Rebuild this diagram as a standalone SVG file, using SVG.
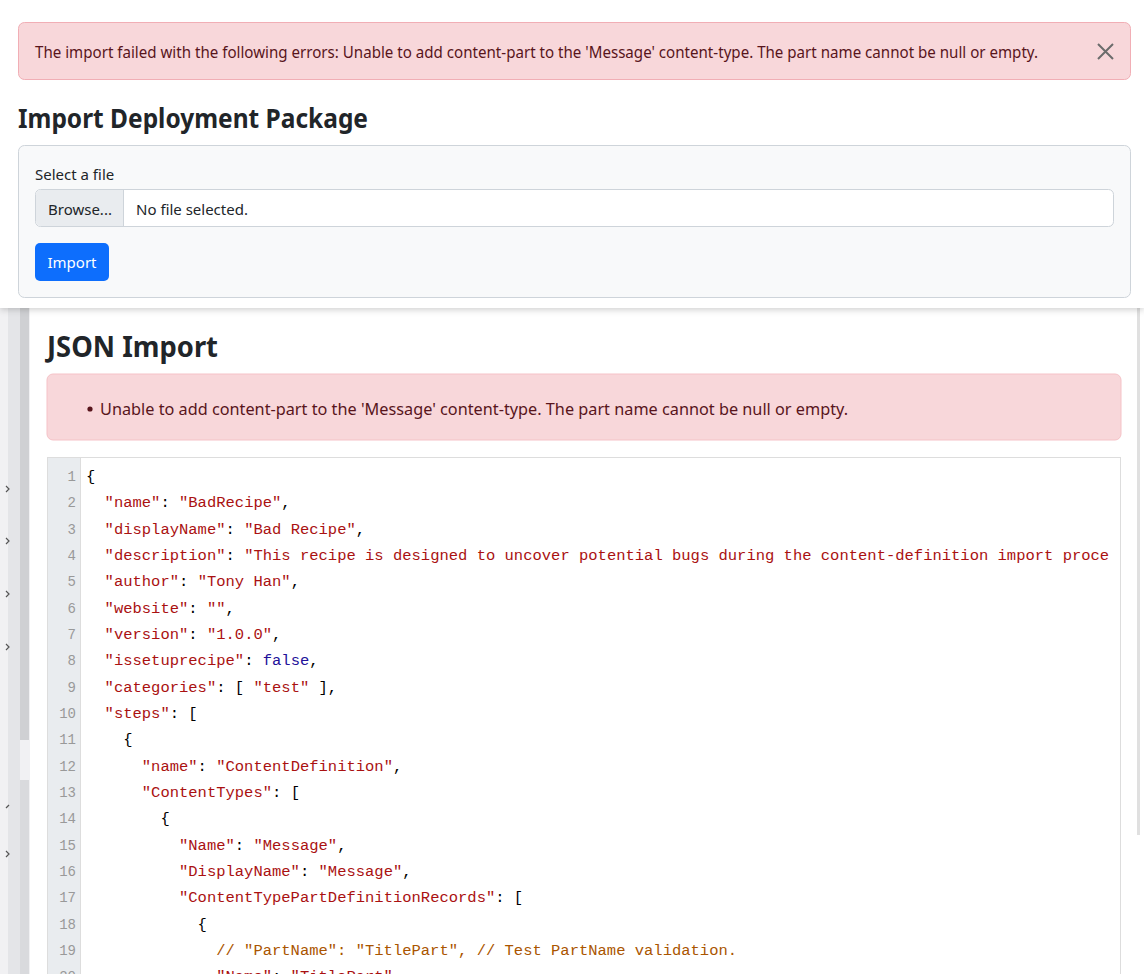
<svg xmlns="http://www.w3.org/2000/svg" width="1144" height="974" viewBox="0 0 1144 974">
<defs>
<style>
.ui{font-family:"Segoe UI","Noto Sans","Open Sans",sans-serif}
.code{font-family:"Liberation Mono","DejaVu Sans Mono",monospace;font-size:15.5px}
.ln{font-family:"Liberation Mono",monospace;font-size:14px;fill:#999;text-anchor:end}
.s{fill:#a11}.k{fill:#a11}.p{fill:#000}.b{fill:#219}.c{fill:#a50}
</style>
<filter id="sh" x="-5%" y="-5%" width="110%" height="115%"><feDropShadow dx="0" dy="2" stdDeviation="3" flood-opacity="0.18"/></filter>
</defs>
<rect width="1144" height="974" fill="#fff"/>
<g id="sidebar">
<rect x="0" y="300" width="30" height="674" fill="#f1f1f3"/>
<rect x="8" y="300" width="12" height="674" fill="#e4e5e8"/>
<rect x="20" y="300" width="9" height="440" fill="#cfd0d3"/>
<rect x="20" y="780" width="9" height="194" fill="#d9dadd"/>
<g fill="none" stroke="#555" stroke-width="1.2">
<path d="M6 486l3 3-3 3"/><path d="M6 538l3 3-3 3"/><path d="M6 591l3 3-3 3"/><path d="M6 644l3 3-3 3"/><path d="M6 851l3 3-3 3"/><path d="M6 808l3-3"/>
</g>
<rect x="1137" y="300" width="3" height="535" fill="#e0e0e0"/>
</g>
<g id="json">
<text x="47" y="357" class="ui" font-size="29" font-weight="700" fill="#212529" textLength="171" lengthAdjust="spacingAndGlyphs">JSON Import</text>
<rect x="47" y="374" width="1074" height="66" rx="6" fill="#f8d7da" stroke="#f5c2c7"/>
<circle cx="90" cy="409" r="2.6" fill="#58151c"/>
<text x="100" y="415" class="ui" font-size="16" fill="#58151c" textLength="748" lengthAdjust="spacingAndGlyphs">Unable to add content-part to the 'Message' content-type. The part name cannot be null or empty.</text>
<rect x="47.5" y="457.5" width="1073" height="530" fill="#fff" stroke="#ddd"/>
<rect x="48" y="458" width="32" height="520" fill="#e9ecef"/>
<line x1="80.5" y1="458" x2="80.5" y2="974" stroke="#ddd"/>
<g class="ln">
<text x="76" y="481">1</text><text x="76" y="507">2</text><text x="76" y="534">3</text><text x="76" y="560">4</text><text x="76" y="586">5</text><text x="76" y="613">6</text><text x="76" y="639">7</text><text x="76" y="665">8</text><text x="76" y="692">9</text><text x="76" y="718">10</text><text x="76" y="744">11</text><text x="76" y="771">12</text><text x="76" y="797">13</text><text x="76" y="823">14</text><text x="76" y="850">15</text><text x="76" y="876">16</text><text x="76" y="902">17</text><text x="76" y="929">18</text><text x="76" y="955">19</text><text x="76" y="981">20</text>
</g>
<g class="code">
<text x="86" y="481" class="p">{</text>
<text x="104.6" y="507"><tspan class="k">"name"</tspan><tspan class="p">: </tspan><tspan class="s">"BadRecipe"</tspan><tspan class="p">,</tspan></text>
<text x="104.6" y="534"><tspan class="k">"displayName"</tspan><tspan class="p">: </tspan><tspan class="s">"Bad Recipe"</tspan><tspan class="p">,</tspan></text>
<text x="104.6" y="560"><tspan class="k">"description"</tspan><tspan class="p">: </tspan><tspan class="s">"This recipe is designed to uncover potential bugs during the content-definition import proce</tspan></text>
<text x="104.6" y="586"><tspan class="k">"author"</tspan><tspan class="p">: </tspan><tspan class="s">"Tony Han"</tspan><tspan class="p">,</tspan></text>
<text x="104.6" y="613"><tspan class="k">"website"</tspan><tspan class="p">: </tspan><tspan class="s">""</tspan><tspan class="p">,</tspan></text>
<text x="104.6" y="639"><tspan class="k">"version"</tspan><tspan class="p">: </tspan><tspan class="s">"1.0.0"</tspan><tspan class="p">,</tspan></text>
<text x="104.6" y="665"><tspan class="k">"issetuprecipe"</tspan><tspan class="p">: </tspan><tspan class="b">false</tspan><tspan class="p">,</tspan></text>
<text x="104.6" y="692"><tspan class="k">"categories"</tspan><tspan class="p">: [ </tspan><tspan class="s">"test"</tspan><tspan class="p"> ],</tspan></text>
<text x="104.6" y="718"><tspan class="k">"steps"</tspan><tspan class="p">: [</tspan></text>
<text x="123.2" y="744" class="p">{</text>
<text x="141.8" y="771"><tspan class="k">"name"</tspan><tspan class="p">: </tspan><tspan class="s">"ContentDefinition"</tspan><tspan class="p">,</tspan></text>
<text x="141.8" y="797"><tspan class="k">"ContentTypes"</tspan><tspan class="p">: [</tspan></text>
<text x="160.4" y="823" class="p">{</text>
<text x="179" y="850"><tspan class="k">"Name"</tspan><tspan class="p">: </tspan><tspan class="s">"Message"</tspan><tspan class="p">,</tspan></text>
<text x="179" y="876"><tspan class="k">"DisplayName"</tspan><tspan class="p">: </tspan><tspan class="s">"Message"</tspan><tspan class="p">,</tspan></text>
<text x="179" y="902"><tspan class="k">"ContentTypePartDefinitionRecords"</tspan><tspan class="p">: [</tspan></text>
<text x="197.6" y="929" class="p">{</text>
<text x="216.2" y="955" class="c">// "PartName": "TitlePart", // Test PartName validation.</text>
<text x="216.2" y="981"><tspan class="k">"Name"</tspan><tspan class="p">: </tspan><tspan class="s">"TitlePart"</tspan><tspan class="p">,</tspan></text>
</g>
</g>
<g id="top-panel">
<rect x="0" y="-10" width="1144" height="318" fill="#fff" filter="url(#sh)"/>
<rect x="18.5" y="22.5" width="1112" height="57" rx="6" fill="#f8d7da" stroke="#f1aeb5"/>
<text x="35" y="58" class="ui" font-size="16" fill="#58151c" textLength="1003" lengthAdjust="spacingAndGlyphs">The import failed with the following errors: Unable to add content-part to the 'Message' content-type. The part name cannot be null or empty.</text>
<path d="M1098 44l15 15M1113 44l-15 15" stroke="#6c6c6c" stroke-width="2"/>
<text x="18" y="128" class="ui" font-size="26" font-weight="700" fill="#212529" textLength="350" lengthAdjust="spacingAndGlyphs">Import Deployment Package</text>
<rect x="18.5" y="145.5" width="1112" height="152" rx="6" fill="#f8f9fa" stroke="#ced4da"/>
<text x="35" y="180" class="ui" font-size="15" fill="#212529">Select a file</text>
<rect x="35.5" y="189.5" width="1078" height="37" rx="5" fill="#fff" stroke="#ced4da"/>
<path d="M40 190h83v36h-83a5 5 0 0 1-4-5v-26a5 5 0 0 1 4-5z" fill="#e9ecef"/>
<line x1="123.5" y1="190" x2="123.5" y2="226" stroke="#ced4da"/>
<text x="48" y="215" class="ui" font-size="15" fill="#212529">Browse...</text>
<text x="136" y="215" class="ui" font-size="15" fill="#212529">No file selected.</text>
<rect x="35" y="243" width="74" height="38" rx="5" fill="#0d6efd"/>
<text x="72" y="268" class="ui" font-size="15" fill="#fff" text-anchor="middle">Import</text>
</g>
</svg>
